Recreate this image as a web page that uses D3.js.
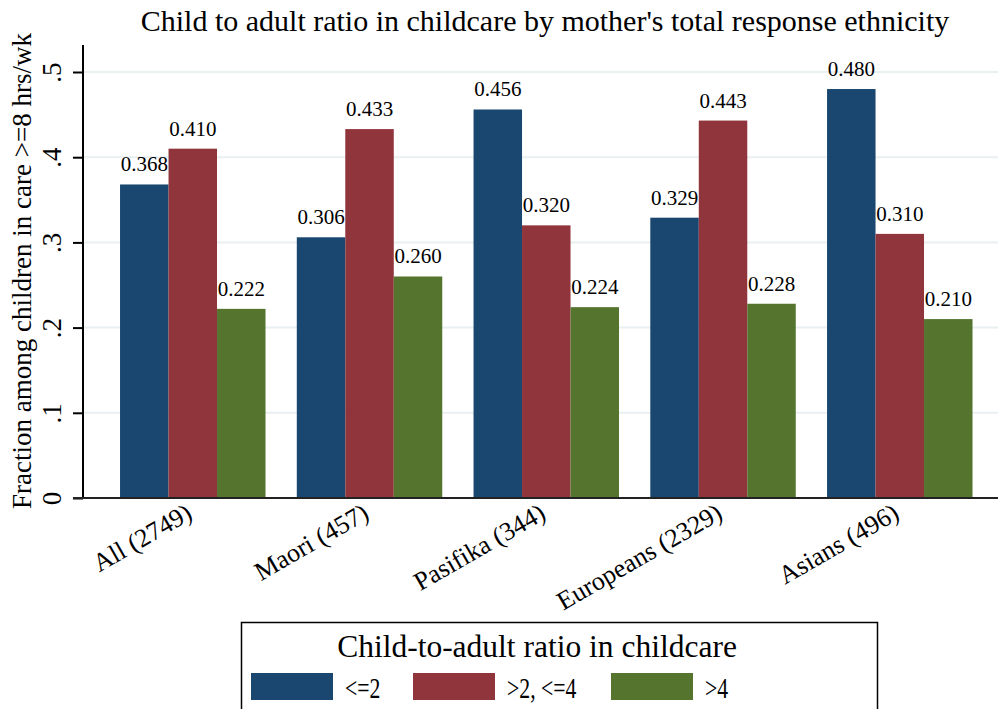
<!DOCTYPE html>
<html>
<head>
<meta charset="utf-8">
<script src="https://cdn.jsdelivr.net/npm/d3@7"></script>
<style>
  body { margin: 0; background: #fff; }
  svg { font-family: "Liberation Serif", "Times New Roman", serif; }
</style>
</head>
<body>
<svg id="chart" width="998" height="709"></svg>
<script>
// data
let groups = ["All (2749)", "Maori (457)", "Pasifika (344)", "Europeans (2329)", "Asians (496)"];
let seriesNames = ["<=2", ">2, <=4", ">4"];
let ratioLow = [0.368, 0.306, 0.456, 0.329, 0.480];
let ratioMid = [0.410, 0.433, 0.320, 0.443, 0.310];
let ratioHigh = [0.222, 0.260, 0.224, 0.228, 0.210];
let yTicks = [0, 0.1, 0.2, 0.3, 0.4, 0.5];
let yTickLabels = ["0", ".1", ".2", ".3", ".4", ".5"];
let colors = ["#1a476f", "#90353b", "#55752f"];

let series = [ratioLow, ratioMid, ratioHigh];
let data = [];
groups.forEach((g, i) => {
    series.forEach((s, j) => {
        data.push({group: g, key: seriesNames[j], value: s[i]});
    });
});

let svg = d3.select("#chart");
let axisX = 83, right = 998, baseY = 498;

let x = d3.scaleBand()
    .domain(groups)
    .range([104.4, 104.4 + 5 * 176.75])
    .paddingInner(0.177)
    .paddingOuter(0.0885);

let xInner = d3.scaleBand()
    .domain(seriesNames)
    .range([0, x.bandwidth()]);

let y = d3.scaleLinear()
    .domain([0, 0.5])
    .range([baseY, 72]);

// gridlines
svg.append("g")
    .selectAll("line")
    .data(yTicks.slice(1))
    .enter().append("line")
    .attr("x1", axisX).attr("x2", right)
    .attr("y1", d => y(d)).attr("y2", d => y(d))
    .attr("stroke", "#e8f0f2")
    .attr("stroke-width", 2);

// bars
svg.append("g")
    .selectAll("rect")
    .data(data)
    .enter().append("rect")
    .attr("x", d => x(d.group) + xInner(d.key))
    .attr("y", d => y(d.value))
    .attr("width", xInner.bandwidth())
    .attr("height", d => baseY - y(d.value))
    .style("fill", d => colors[seriesNames.indexOf(d.key)]);

// value labels
svg.append("g")
    .selectAll("text")
    .data(data)
    .enter().append("text")
    .attr("x", d => x(d.group) + xInner(d.key) + xInner.bandwidth() / 2)
    .attr("y", d => y(d.value) - 13)
    .style("text-anchor", "middle")
    .style("font-size", "21px")
    .text(d => d.value.toFixed(3));

// y axis
let yAxis = d3.axisLeft(y)
    .tickValues(yTicks)
    .tickSize(10)
    .tickFormat((d, i) => yTickLabels[i]);

let yg = svg.append("g")
    .attr("transform", `translate(${axisX},0)`)
    .call(yAxis);
yg.select(".domain").attr("d", `M0,${baseY}V45`).attr("stroke", "#000").attr("stroke-width", 2);
yg.selectAll(".tick line").attr("stroke", "#000").attr("stroke-width", 2);
yg.selectAll(".tick text")
    .attr("font-family", "Liberation Serif, serif")
    .attr("font-size", 27)
    .attr("fill", "#000")
    .attr("x", 0).attr("dy", 0)
    .attr("transform", "translate(-22,0) rotate(-90)")
    .style("text-anchor", "middle");

// x axis line
svg.append("line")
    .attr("x1", axisX - 10).attr("x2", right)
    .attr("y1", baseY).attr("y2", baseY)
    .attr("stroke", "#222").attr("stroke-width", 2);

// x labels
svg.append("g")
    .selectAll("text")
    .data(groups)
    .enter().append("text")
    .attr("transform", d => `translate(${x(d) + x.bandwidth() / 2 + 1},${baseY + 20}) rotate(-30)`)
    .style("text-anchor", "end")
    .style("font-size", "26px")
    .text(d => d);

// title
svg.append("text")
    .attr("x", 545).attr("y", 31)
    .style("text-anchor", "middle")
    .style("font-size", "30px")
    .text("Child to adult ratio in childcare by mother's total response ethnicity");

// y axis title
svg.append("text")
    .attr("transform", "translate(31,271) rotate(-90)")
    .style("text-anchor", "middle")
    .style("font-size", "27px")
    .text("Fraction among children in care >=8 hrs/wk");

// legend
let legend = svg.append("g");
legend.append("rect")
    .attr("x", 241.5).attr("y", 622.5)
    .attr("width", 636).attr("height", 100)
    .attr("fill", "#fff").attr("stroke", "#000").attr("stroke-width", 1.5);
legend.append("text")
    .attr("x", 537).attr("y", 657)
    .style("text-anchor", "middle")
    .style("font-size", "31.5px")
    .text("Child-to-adult ratio in childcare");

let legX = [251, 413, 611];
seriesNames.forEach((s, i) => {
    legend.append("rect")
        .attr("x", legX[i]).attr("y", 673)
        .attr("width", 82).attr("height", 27)
        .style("fill", colors[i]);
    // labels in the reference are narrower than the font, so squeeze them
    legend.append("text")
        .attr("transform", `translate(${legX[i] + 94},698) scale(0.75,1)`)
        .style("font-size", "29px")
        .text(s);
});
</script>
</body>
</html>
